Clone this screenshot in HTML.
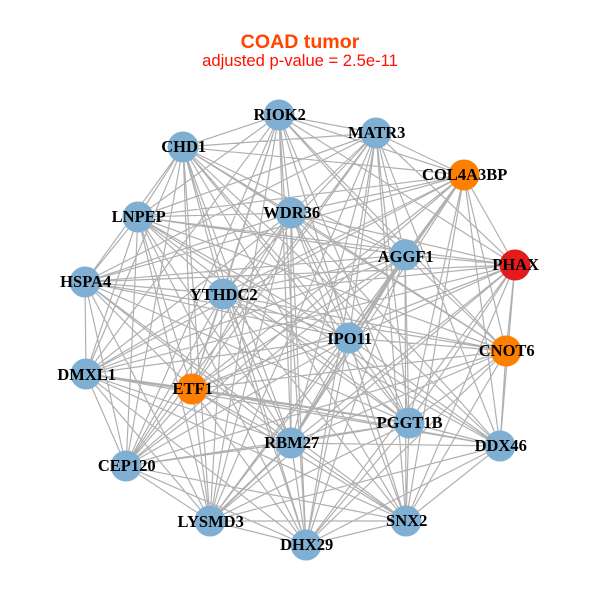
<!DOCTYPE html>
<html><head><meta charset="utf-8"><style>html,body{margin:0;padding:0;background:#fff}svg{display:block}
.n{font:bold 16.5px "Liberation Serif",serif;text-anchor:middle;fill:#000}</style></head><body>
<svg width="600" height="600" viewBox="0 0 600 600" xmlns="http://www.w3.org/2000/svg">
<rect width="600" height="600" fill="#fff"/>
<path fill="none" stroke="#b0b0b0" stroke-width="1.2" d="
M279 115L376 133M279 115L464 175M279 115L515 265M279 115L506 351M279 115L406 521M279 115L306 545M279 115L210 521M279 115L126 466M279 115L86 374M279 115L138 217M279 115L183 147M279 115L291 213M279 115L405 255M279 115L223 294M279 115L349 338M279 115L192 389M279 115L409 423M279 115L291 443
M376 133L464 175M376 133L515 265M376 133L500 446M376 133L406 521M376 133L306 545M376 133L210 521M376 133L126 466M376 133L85 282M376 133L138 217M376 133L183 147M376 133L291 213M376 133L405 255M376 133L223 294M376 133L349 338M376 133L192 389M376 133L409 423M376 133L291 443
M464 175L515 265M464 175L506 351M464 175L500 446M464 175L406 521M464 175L210 521M464 175L126 466M464 175L86 374M464 175L85 282M464 175L138 217M464 175L183 147M464 175L291 213M464 175L405 255M464 175L223 294M464 175L349 338M464 175L192 389M464 175L409 423M464 175L291 443
M515 265L506 351M515 265L500 446M515 265L406 521M515 265L306 545M515 265L210 521M515 265L86 374M515 265L85 282M515 265L138 217M515 265L291 213M515 265L405 255M515 265L223 294M515 265L349 338M515 265L192 389M515 265L409 423M515 265L291 443
M506 351L500 446M506 351L406 521M506 351L306 545M506 351L126 466M506 351L85 282M506 351L138 217M506 351L183 147M506 351L291 213M506 351L405 255M506 351L223 294M506 351L349 338M506 351L192 389M506 351L409 423M506 351L291 443
M500 446L406 521M500 446L306 545M500 446L210 521M500 446L86 374M500 446L138 217M500 446L183 147M500 446L291 213M500 446L223 294M500 446L349 338M500 446L192 389M500 446L409 423M500 446L291 443
M406 521L306 545M406 521L210 521M406 521L126 466M406 521L86 374M406 521L85 282M406 521L183 147M406 521L291 213M406 521L405 255M406 521L223 294M406 521L349 338M406 521L192 389M406 521L409 423M406 521L291 443
M306 545L210 521M306 545L126 466M306 545L86 374M306 545L138 217M306 545L183 147M306 545L291 213M306 545L405 255M306 545L223 294M306 545L349 338M306 545L192 389M306 545L409 423M306 545L291 443
M210 521L126 466M210 521L86 374M210 521L85 282M210 521L138 217M210 521L183 147M210 521L291 213M210 521L405 255M210 521L223 294M210 521L349 338M210 521L192 389M210 521L409 423M210 521L291 443
M126 466L86 374M126 466L85 282M126 466L138 217M126 466L183 147M126 466L291 213M126 466L405 255M126 466L223 294M126 466L349 338M126 466L192 389M126 466L409 423M126 466L291 443
M86 374L85 282M86 374L138 217M86 374L183 147M86 374L291 213M86 374L405 255M86 374L223 294M86 374L349 338M86 374L192 389M86 374L409 423M86 374L291 443
M85 282L138 217M85 282L183 147M85 282L291 213M85 282L405 255M85 282L223 294M85 282L349 338M85 282L192 389M85 282L409 423M85 282L291 443
M138 217L183 147M138 217L291 213M138 217L405 255M138 217L223 294M138 217L349 338M138 217L192 389M138 217L409 423M138 217L291 443
M183 147L291 213M183 147L405 255M183 147L223 294M183 147L349 338M183 147L192 389M183 147L409 423M183 147L291 443
M291 213L405 255M291 213L223 294M291 213L349 338M291 213L192 389M291 213L409 423M291 213L291 443
M405 255L223 294M405 255L349 338M405 255L192 389M405 255L409 423M405 255L291 443
M223 294L349 338M223 294L192 389M223 294L409 423M223 294L291 443
M349 338L192 389M349 338L409 423M349 338L291 443
M192 389L409 423M192 389L291 443
M409 423L291 443"/>
<path fill="none" stroke="#b0b0b0" stroke-width="2" d="M86 374L192 389M192 389L409 423M405 255L291 443M210 521L291 443M464 175L349 338"/>
<g fill="#7fb0d3">
<circle cx="279" cy="115" r="15.5"/><circle cx="376" cy="133" r="15.5"/><circle cx="500" cy="446" r="15.5"/><circle cx="406" cy="521" r="15.5"/><circle cx="306" cy="545" r="15.5"/><circle cx="210" cy="521" r="15.5"/><circle cx="126" cy="466" r="15.5"/><circle cx="86" cy="374" r="15.5"/><circle cx="85" cy="282" r="15.5"/><circle cx="138" cy="217" r="15.5"/><circle cx="183" cy="147" r="15.5"/><circle cx="291" cy="213" r="15.5"/><circle cx="405" cy="255" r="15.5"/><circle cx="223" cy="294" r="15.5"/><circle cx="349" cy="338" r="15.5"/><circle cx="409" cy="423" r="15.5"/><circle cx="291" cy="443" r="15.5"/>
</g>
<g fill="#ff7f00"><circle cx="464" cy="175" r="15.5"/><circle cx="506" cy="351" r="15.5"/><circle cx="192" cy="389" r="15.5"/></g>
<circle cx="515" cy="265" r="15.5" fill="#e41a1c"/>
<g transform="translate(0.7 0)">
<text class="n" x="279" y="120">RIOK2</text><text class="n" x="376" y="138">MATR3</text><text class="n" x="464" y="180">COL4A3BP</text><text class="n" x="515" y="270">PHAX</text><text class="n" x="506" y="356">CNOT6</text><text class="n" x="500" y="451">DDX46</text><text class="n" x="406" y="526">SNX2</text><text class="n" x="306" y="550">DHX29</text><text class="n" x="210" y="527">LYSMD3</text><text class="n" x="126" y="471">CEP120</text><text class="n" x="86" y="380">DMXL1</text><text class="n" x="85" y="287">HSPA4</text><text class="n" x="138" y="222">LNPEP</text><text class="n" x="183" y="152">CHD1</text><text class="n" x="291" y="218">WDR36</text><text class="n" x="405" y="262">AGGF1</text><text class="n" x="223" y="300">YTHDC2</text><text class="n" x="349" y="344">IPO11</text><text class="n" x="192" y="394">ETF1</text><text class="n" x="409" y="428">PGGT1B</text><text class="n" x="291" y="448">RBM27</text>
</g>
<text x="300" y="48" text-anchor="middle" font-family="Liberation Sans, sans-serif" font-weight="bold" font-size="19.6" fill="#ff4500">COAD tumor</text>
<text x="300" y="66" text-anchor="middle" font-family="Liberation Sans, sans-serif" font-size="16.6" fill="#ff1000">adjusted p-value = 2.5e-11</text>
</svg>
</body></html>
